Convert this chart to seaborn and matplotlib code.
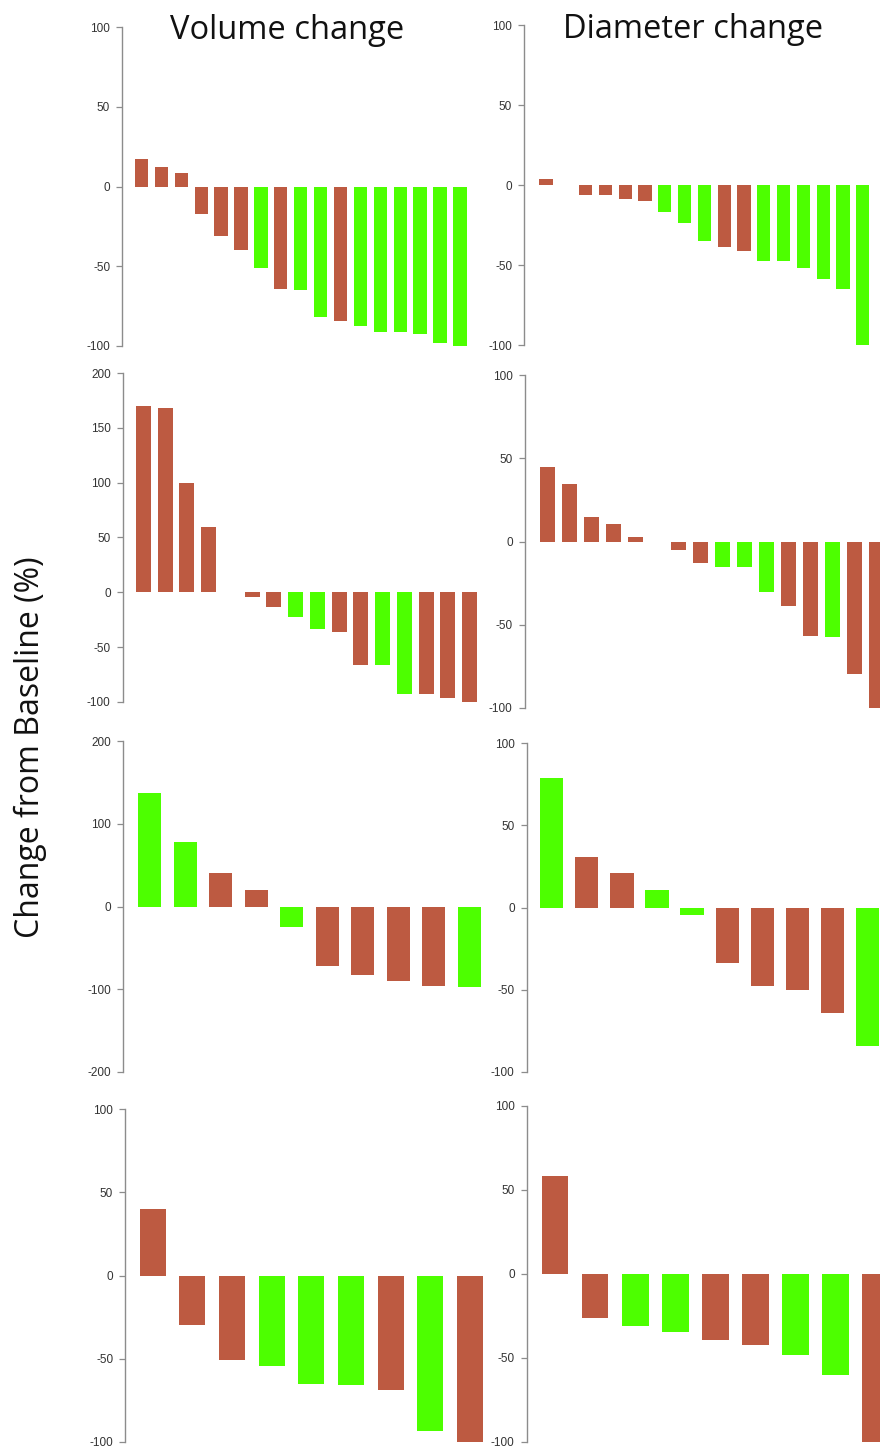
import matplotlib

matplotlib.use("Agg")

import matplotlib.pyplot as plt
import seaborn as sns


# =========================================================
# DATA
# =========================================================

# row 1
volume_1_values = [17, 12.5, 8.5, -17.5, -31, -40, -51, -64, -65, -82,
                   -84.5, -87.5, -91, -91.5, -92.5, -98, -100]
volume_1_groups = ["brown", "brown", "brown", "brown", "brown", "brown",
                   "green", "brown", "green", "green", "brown", "green",
                   "green", "green", "green", "green", "green"]

diameter_1_values = [3.5, 0, -6.5, -6.5, -8.5, -10, -17, -24, -35, -38.5,
                     -41, -47.5, -47.5, -52, -58.5, -65, -100]
diameter_1_groups = ["brown", "brown", "brown", "brown", "brown", "brown",
                     "green", "green", "green", "brown", "brown", "green",
                     "green", "green", "green", "green", "green"]

# row 2
volume_2_values = [170, 168, 100, 60, 0, -4, -13.5, -22.5, -33, -36.5,
                   -66.5, -66.5, -92.5, -92.5, -96.5, -100]
volume_2_groups = ["brown", "brown", "brown", "brown", "brown", "brown",
                   "brown", "green", "green", "brown", "brown", "green",
                   "green", "brown", "brown", "brown"]

diameter_2_values = [45, 34.5, 15, 10.5, 3, 0, -5, -13, -15.5, -15.5,
                     -30.5, -38.5, -57, -57.5, -79.5, -100]
diameter_2_groups = ["brown", "brown", "brown", "brown", "brown", "brown",
                     "brown", "brown", "green", "green", "green", "brown",
                     "brown", "green", "brown", "brown"]

# row 3
volume_3_values = [137, 77.5, 41, 20.5, -25, -72, -82.5, -90.5, -96.5, -97.5]
volume_3_groups = ["green", "green", "brown", "brown", "green", "brown",
                   "brown", "brown", "brown", "green"]

diameter_3_values = [78.5, 31, 21, 10.5, -4.5, -33.5, -48, -50, -64, -84]
diameter_3_groups = ["green", "brown", "brown", "green", "green", "brown",
                     "brown", "brown", "brown", "green"]

# row 4
volume_4_values = [40, -30, -51, -54.5, -65, -66, -68.5, -93.5, -100]
volume_4_groups = ["brown", "brown", "brown", "green", "green", "green",
                   "brown", "green", "brown"]

diameter_4_values = [58.5, -26, -31, -34.5, -39.5, -42, -48, -60, -100]
diameter_4_groups = ["brown", "brown", "green", "green", "brown", "brown",
                     "green", "green", "brown"]

column_titles = ["Volume change", "Diameter change"]
y_label = "Change from Baseline (%)"

row1_ticks = [-100, -50, 0, 50, 100]
row2_left_ticks = [-100, -50, 0, 50, 100, 150, 200]
row3_left_ticks = [-200, -100, 0, 100, 200]
standard_ticks = [-100, -50, 0, 50, 100]


# =========================================================
# STYLE
# =========================================================

sns.set_style("white")
plt.rcParams["font.family"] = ["Liberation Sans", "DejaVu Sans"]
plt.rcParams["axes.unicode_minus"] = False

PALETTE = {"brown": "#BD5A41", "green": "#4DFF00"}
AXIS_GREY = "#8C8C8C"

FIG_W, FIG_H = 880, 1449


# =========================================================
# HELPERS
# =========================================================

def _waterfall(fig, values, groups, ticks, axis_x, top_px, bottom_px,
               first_center, step, bar_w, right_px):
    """
    Draw one waterfall panel; layout is given in figure pixels.
    """

    ax = fig.add_axes([
        axis_x / FIG_W,
        1 - bottom_px / FIG_H,
        (right_px - axis_x) / FIG_W,
        (bottom_px - top_px) / FIG_H,
    ])
    ax.patch.set_visible(False)

    positions = list(range(len(values)))

    sns.barplot(
        x=positions,
        y=values,
        hue=groups,
        palette=PALETTE,
        dodge=False,
        width=bar_w / step,
        saturation=1,
        linewidth=0,
        legend=False,
        ax=ax,
    )

    ax.set_xlim(
        -(first_center - axis_x) / step,
        (right_px - first_center) / step,
    )
    ax.set_ylim(ticks[0], ticks[-1])
    ax.set_yticks(ticks)
    ax.set_yticklabels([str(t) for t in ticks])
    ax.set_xticks([])
    ax.set_xlabel("")
    ax.set_ylabel("")

    for side in ["top", "right", "bottom"]:
        ax.spines[side].set_visible(False)
    ax.spines["left"].set_color(AXIS_GREY)
    ax.spines["left"].set_linewidth(1.0)

    ax.tick_params(
        axis="y",
        direction="out",
        length=4.5,
        width=0.9,
        color=AXIS_GREY,
        labelsize=8.5,
        labelcolor="#333333",
        pad=4,
        left=True,
    )

    return ax


# =========================================================
# FIGURE
# =========================================================

fig = plt.figure(figsize=(FIG_W / 100, FIG_H / 100), dpi=100)
fig.patch.set_facecolor("white")

# row 1
_waterfall(fig, volume_1_values, volume_1_groups, row1_ticks,
           122, 27, 346, 141.5, 19.9, 13.3, 500)
_waterfall(fig, diameter_1_values, diameter_1_groups, row1_ticks,
           524, 25, 345, 546, 19.8, 13.3, 920)

# row 2
_waterfall(fig, volume_2_values, volume_2_groups, row2_left_ticks,
           122.5, 373, 702, 143.3, 21.75, 15, 500)
_waterfall(fig, diameter_2_values, diameter_2_groups, standard_ticks,
           524.5, 375, 708, 547.5, 21.9, 15, 920)

# row 3
_waterfall(fig, volume_3_values, volume_3_groups, row3_left_ticks,
           123, 741, 1072, 149.7, 35.5, 23, 500)
_waterfall(fig, diameter_3_values, diameter_3_groups, standard_ticks,
           526.5, 743, 1072, 551.7, 35.1, 23.3, 920)

# row 4
_waterfall(fig, volume_4_values, volume_4_groups, standard_ticks,
           125, 1109, 1442, 152.5, 39.7, 26, 500)
_waterfall(fig, diameter_4_values, diameter_4_groups, standard_ticks,
           526.5, 1106, 1442, 555, 40.1, 26.7, 920)

# titles and shared label
title_font = ["Open Sans", "DejaVu Sans"]

fig.text(287 / FIG_W, 1 - 39 / FIG_H, column_titles[0],
         ha="center", va="baseline", fontsize=23.5,
         family=title_font, color="#111111")
fig.text(693 / FIG_W, 1 - 38.5 / FIG_H, column_titles[1],
         ha="center", va="baseline", fontsize=23.5,
         family=title_font, color="#111111")
fig.text(30 / FIG_W, 1 - 747 / FIG_H, y_label,
         ha="center", va="center", rotation=90, fontsize=23,
         family=title_font, color="#111111")

fig.savefig("out.png", dpi=100, facecolor="white")
